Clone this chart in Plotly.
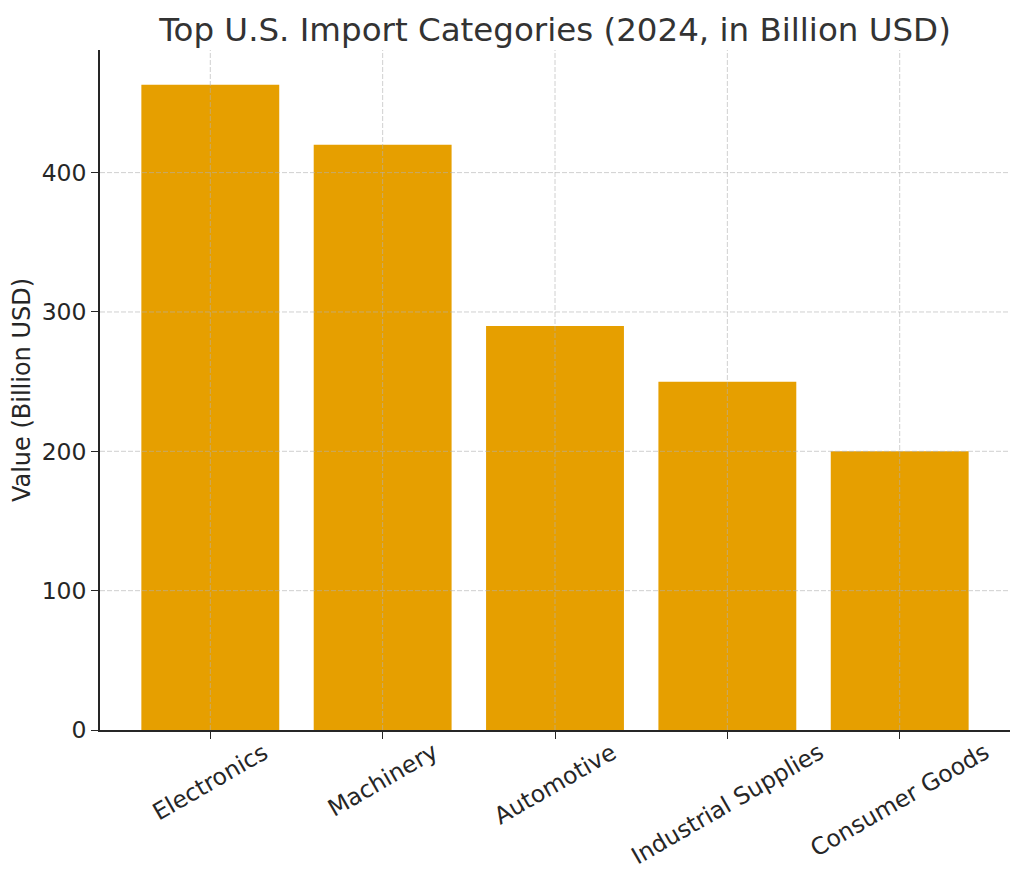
from plotly import graph_objects as go

categories = ['Electronics', 'Machinery', 'Automotive', 'Industrial Supplies', 'Consumer Goods']
values = [463, 420, 290, 250, 200]
y_ticks = [0, 100, 200, 300, 400]

fig = go.Figure()

# Bars
fig.add_trace(
  go.Bar(
    x=list(range(len(categories))),
    y=values,
    width=0.8,
    marker_color='#E69F00',
    marker_line_width=0,
    name='Imports'
  )
)

# Rotated category labels centred on ticks (matplotlib style)
for i, cat in enumerate(categories):
  fig.add_annotation(
    x=i, y=0, xref='x', yref='y',
    text=cat, showarrow=False, textangle=-30,
    xanchor='center', yanchor='top', yshift=-5,
    font=dict(size=23.5, color='#262626')
  )

# Dashed grid drawn above the bars, like the matplotlib original
grid_line = dict(color='rgba(176,176,176,0.6)', width=1, dash='5px,2px')
for i in range(len(categories)):
  fig.add_shape(type='line', xref='x', yref='paper', x0=i, x1=i, y0=0, y1=1,
                line=grid_line, layer='above')
for t in y_ticks[1:]:
  fig.add_shape(type='line', xref='paper', yref='y', x0=0, x1=1, y0=t, y1=t,
                line=grid_line, layer='above')

axis_common = dict(
  showgrid=False,
  showline=True,
  linecolor='#262626',
  linewidth=1.6,
  ticks='outside',
  ticklen=7,
  tickwidth=1.3,
  tickcolor='#262626',
  zeroline=False,
  layer='above traces',
)

# Page body has an 8px margin, so the figure is sized to fit inside it
fig.update_layout(
  width=1008, height=869,
  margin=dict(l=92, r=6, t=42, b=147),
  plot_bgcolor='white',
  paper_bgcolor='white',
  font=dict(family='DejaVu Sans', color='#262626', size=23.5),
  title=dict(
    text='Top U.S. Import Categories (2024, in Billion USD)',
    x=0.5, xanchor='center', y=0.9747, yanchor='middle',
    xref='paper',
    font=dict(size=32.5, color='#333333')
  ),
  showlegend=False,
  xaxis=dict(
    axis_common,
    range=[-0.64, 4.64],
    tickvals=list(range(len(categories))),
    showticklabels=False,
  ),
  yaxis=dict(
    axis_common,
    range=[0, 488],
    tickvals=y_ticks,
    title=dict(text='Value (Billion USD)', font=dict(size=24), standoff=10),
  ),
)

fig.write_html('out.html')
